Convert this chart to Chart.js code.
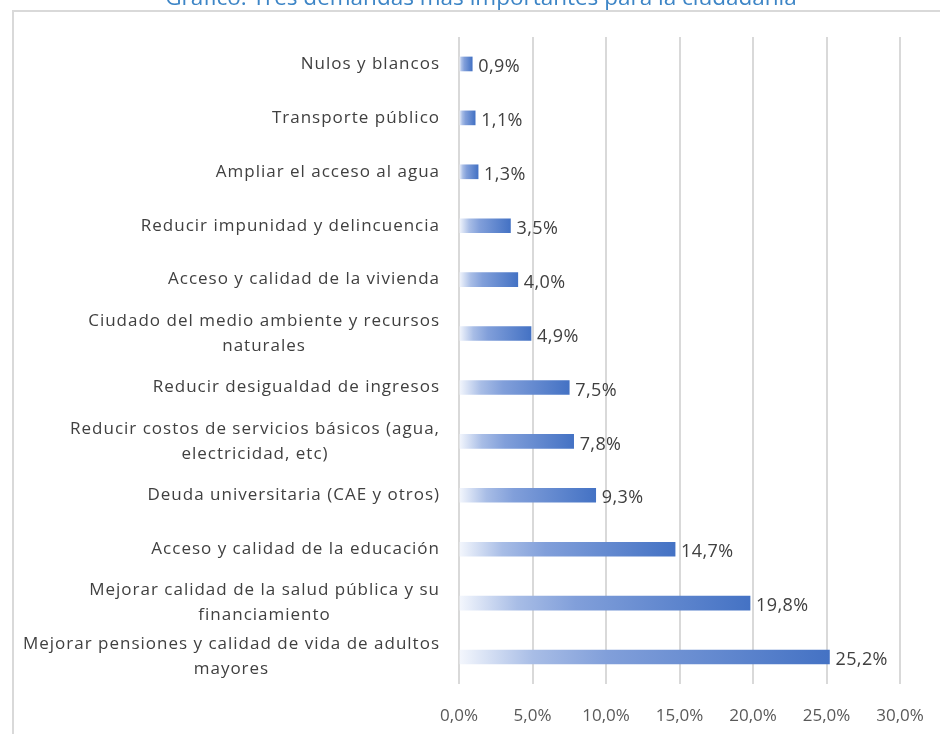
<!DOCTYPE html>
<html>
<head>
<meta charset="utf-8">
<script src="https://cdn.jsdelivr.net/npm/chart.js@4"></script>
<style>
  html, body { margin: 0; padding: 0; background: #ffffff; }
  #wrap { position: relative; width: 940px; height: 734px; overflow: hidden; }
  canvas { display: block; }
</style>
</head>
<body>
<div id="wrap"><canvas id="c" width="940" height="734"></canvas></div>
<script>
const chartTitle = "Gráfico: Tres demandas más importantes para la ciudadanía";
const categories = [
  ["Nulos y blancos"],
  ["Transporte público"],
  ["Ampliar el acceso al agua"],
  ["Reducir impunidad y delincuencia"],
  ["Acceso y calidad de la vivienda"],
  ["Ciudado del medio ambiente y recursos", "naturales"],
  ["Reducir desigualdad de ingresos"],
  ["Reducir costos de servicios básicos (agua,", "electricidad, etc)"],
  ["Deuda universitaria (CAE y otros)"],
  ["Acceso y calidad de la educación"],
  ["Mejorar calidad de la salud pública y su", "financiamiento"],
  ["Mejorar pensiones y calidad de vida de adultos", "mayores"]
];
const values = [0.9, 1.1, 1.3, 3.5, 4.0, 4.9, 7.5, 7.8, 9.3, 14.7, 19.8, 25.2];
const axisMin = 0, axisMax = 30, axisStep = 5;

const FONT = '"Open Sans", "Noto Sans", sans-serif';
const fmt = (v, d) => v.toFixed(d).replace('.', ',') + '%';

const framePlugin = {
  id: 'frame',
  beforeDraw(chart) {
    const c = chart.ctx;
    c.save();
    c.letterSpacing = '0px';
    c.strokeStyle = '#d9d9d9';
    c.lineWidth = 2;
    c.beginPath();
    c.moveTo(13, 734);
    c.lineTo(13, 11);
    c.lineTo(940, 11);
    c.stroke();
    c.fillStyle = '#3d85c6';
    c.font = '22.5px ' + FONT;
    c.textAlign = 'center';
    c.textBaseline = 'alphabetic';
    c.fillText(chartTitle, 481, 5);
    c.restore();
  }
};

const catLabelPlugin = {
  id: 'catLabels',
  afterDraw(chart) {
    const c = chart.ctx, y = chart.scales.y;
    c.save();
    c.fillStyle = '#404040';
    c.font = '17px ' + FONT;
    c.letterSpacing = '1px';
    c.textAlign = 'center';
    c.textBaseline = 'middle';
    const right = 440, lh = 25;
    categories.forEach((lines, i) => {
      const cy = y.getPixelForValue(i);
      const w = Math.max(...lines.map(l => c.measureText(l).width));
      const cx = right - w / 2;
      const y0 = cy - (lines.length - 1) * lh / 2;
      lines.forEach((l, k) => c.fillText(l, cx, y0 + k * lh));
    });
    c.letterSpacing = '0px';
    c.restore();
  }
};

const valueLabelPlugin = {
  id: 'valueLabels',
  afterDatasetsDraw(chart) {
    const c = chart.ctx;
    const meta = chart.getDatasetMeta(0);
    c.save();
    c.fillStyle = '#404040';
    c.font = '18px ' + FONT;
    c.letterSpacing = '0.4px';
    c.textAlign = 'left';
    c.textBaseline = 'middle';
    meta.data.forEach((bar, i) => {
      c.fillText(fmt(values[i], 1), bar.x + 6, bar.y + 3);
    });
    c.letterSpacing = '0px';
    c.restore();
  }
};

function barGradient(ctx) {
  const chart = ctx.chart;
  if (!chart.chartArea || ctx.type !== 'data') return '#4472c4';
  const xs = chart.scales.x;
  const x0 = xs.getPixelForValue(0);
  const x1 = xs.getPixelForValue(values[ctx.dataIndex]);
  const g = chart.ctx.createLinearGradient(x0, 0, Math.max(x1, x0 + 1), 0);
  g.addColorStop(0, '#f4f7fd');
  g.addColorStop(0.2, '#a8bde6');
  g.addColorStop(0.4, '#819fda');
  g.addColorStop(1, '#4472c4');
  return g;
}

new Chart(document.getElementById('c'), {
  type: 'bar',
  data: {
    labels: categories,
    datasets: [{
      data: values,
      backgroundColor: barGradient,
      borderWidth: 0,
      barThickness: 14
    }]
  },
  plugins: [framePlugin, catLabelPlugin, valueLabelPlugin],
  options: {
    indexAxis: 'y',
    responsive: false,
    animation: false,
    layout: { padding: { left: 459, right: 40, top: 37, bottom: 8 } },
    plugins: { legend: { display: false }, tooltip: { enabled: false }, title: { display: false } },
    scales: {
      x: {
        min: axisMin, max: axisMax,
        border: { display: false },
        grid: { color: '#d9d9d9', lineWidth: 2, drawTicks: false },
        afterFit: s => { s.height = 42; s.paddingRight = 0; s.paddingLeft = 0; },
        ticks: {
          stepSize: axisStep,
          padding: 22,
          color: '#595959',
          font: { family: FONT, size: 17 },
          callback: v => fmt(v, 1)
        }
      },
      y: {
        display: false,
        grid: { display: false }
      }
    }
  }
});
</script>
</body>
</html>
